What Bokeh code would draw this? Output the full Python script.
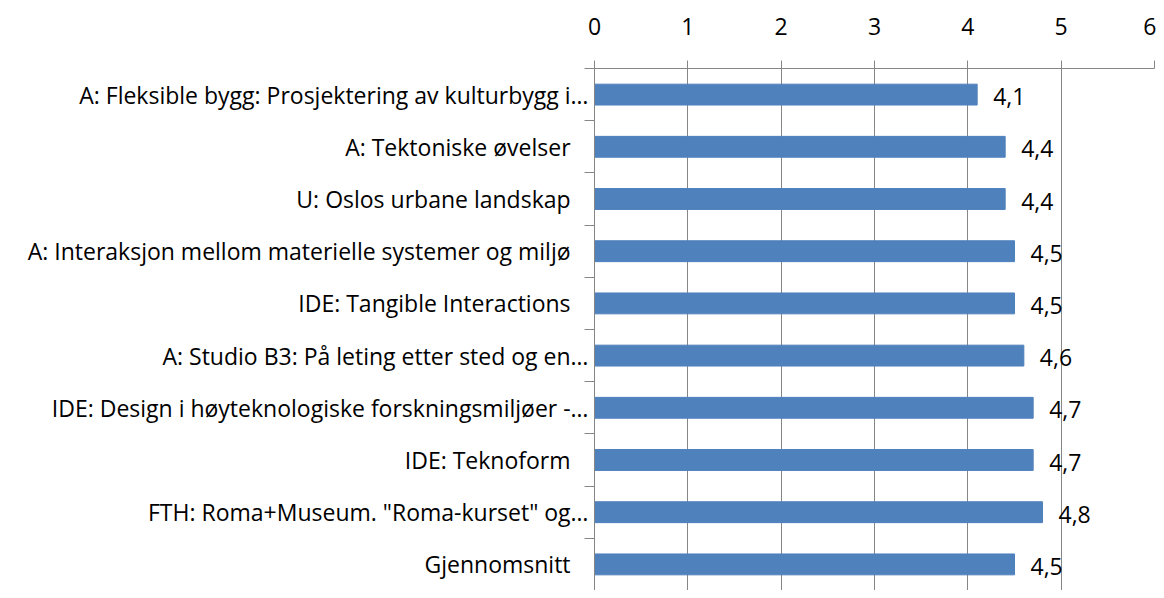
from bokeh.plotting import figure
from bokeh.models import Range1d, FixedTicker, ColumnDataSource
from bokeh.core.properties import value
from bokeh.embed import file_html
from bokeh.resources import INLINE

categories = [
    "A: Fleksible bygg: Prosjektering av kulturbygg i…",
    "A: Tektoniske øvelser   ",
    "U: Oslos urbane landskap   ",
    "A: Interaksjon mellom materielle systemer og miljø   ",
    "IDE: Tangible Interactions   ",
    "A: Studio B3: På leting etter sted og en…",
    "IDE: Design i høyteknologiske forskningsmiljøer -…",
    "IDE: Teknoform   ",
    "FTH: Roma+Museum. \"Roma-kurset\" og…",
    "Gjennomsnitt   ",
]
values = [4.1, 4.4, 4.4, 4.5, 4.5, 4.6, 4.7, 4.7, 4.8, 4.5]
x_ticks = [0, 1, 2, 3, 4, 5, 6]

FONT = "Open Sans"
FS = "23px"
GRID = "#868686"
BAR = "#4F81BD"

n = len(categories)
ypos = [i + 0.5 for i in range(n)]
labels = [f"{v:.1f}".replace(".", ",") for v in values]
src = ColumnDataSource(dict(y=ypos, v=values, lab=labels, cat=categories))

p = figure(width=1156, height=590, output_backend="svg", toolbar_location=None,
           x_range=Range1d(0, 6), y_range=Range1d(n, 0),
           x_axis_location="above",
           min_border_left=594, min_border_right=2, min_border_top=68, min_border_bottom=0)
p.outline_line_color = None

p.hbar(y="y", right="v", left=0, height=0.4, color=BAR, source=src)
p.text(x="v", y="y", text="lab", source=src, x_offset=16, y_offset=2,
       text_align="left", text_baseline="middle",
       text_font=value(FONT), text_font_size=FS, text_color="black")

xa = p.xaxis[0]
xa.ticker = FixedTicker(ticks=x_ticks)
xa.axis_line_color = GRID
xa.major_tick_line_color = GRID
xa.major_tick_out = 8
xa.major_tick_in = 0
xa.minor_tick_line_color = None
xa.major_label_text_font = FONT
xa.major_label_text_font_size = FS
xa.major_label_text_color = "black"
xa.major_label_standoff = 26

ya = p.yaxis[0]
ya.ticker = FixedTicker(ticks=ypos, minor_ticks=list(range(n + 1)))
ya.major_label_overrides = {y: c for y, c in zip(ypos, categories)}
ya.axis_line_color = GRID
ya.major_tick_line_color = None
ya.major_tick_out = 0
ya.major_tick_in = 0
ya.minor_tick_line_color = GRID
ya.minor_tick_out = 10
ya.minor_tick_in = 0
ya.major_label_text_font = FONT
ya.major_label_text_font_size = FS
ya.major_label_text_color = "black"
ya.major_label_standoff = -4

p.xgrid.grid_line_color = GRID
p.xgrid.ticker = FixedTicker(ticks=x_ticks)
p.ygrid.grid_line_color = None

open("out.html", "w").write(file_html(p, INLINE))
